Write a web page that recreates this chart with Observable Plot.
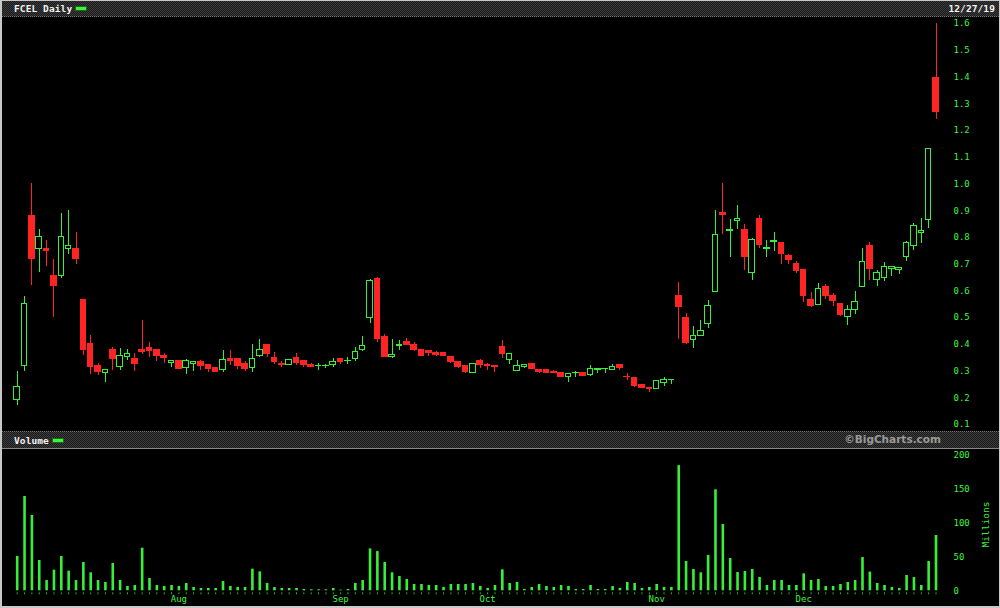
<!DOCTYPE html>
<html><head><meta charset="utf-8">
<script src="https://cdn.jsdelivr.net/npm/d3@7"></script>
<script src="https://cdn.jsdelivr.net/npm/@observablehq/plot@0.6"></script>
<style>
html,body{margin:0;padding:0;background:#fff;}
#wrap{position:relative;width:1000px;height:608px;background:#000;overflow:hidden;font-family:"DejaVu Sans Mono",monospace;}
#frame{position:absolute;left:0;top:0;width:997px;height:605px;border-left:2px solid #c8c8c8;border-top:1px solid #c8c8c8;border-right:1px solid #c8c8c8;border-bottom:2px solid #c8c8c8;pointer-events:none;}
.hdr{position:absolute;left:2px;width:997px;background-color:#1e1e1e;
  background-image:repeating-conic-gradient(#3c3c3c 0 25%, #1a1a1a 0 50%);background-size:2px 2px;}
.hdr .t{position:absolute;font-size:9.5px;font-weight:bold;color:#f2f2f2;letter-spacing:0.1px;}
.dash{position:absolute;width:10px;height:3px;background:#3df53d;box-shadow:0 0 0 1px #1a6a1a;}
#price,#vol{position:absolute;left:0;}
#price{top:17px;} #vol{top:449px;}
#mill{position:absolute;left:962px;top:519px;width:46px;text-align:center;font-size:9.5px;color:#3df53d;transform:rotate(-90deg);}
</style></head>
<body>
<div id="wrap">
  <div class="hdr" style="top:1px;height:15px;border-bottom:1px dotted #777;">
    <span class="t" id="ttl" style="left:12px;top:2px;"></span>
    <div class="dash" style="left:74px;top:6px;"></div>
    <span class="t" id="dt" style="right:4px;top:2px;"></span>
  </div>
  <div id="price"></div>
  <div class="hdr" style="top:431px;height:16px;border-top:1px dotted #777;border-bottom:1px solid #888;">
    <span class="t" id="vt" style="left:12px;top:3px;"></span>
    <div class="dash" style="left:51px;top:7px;"></div>
    <span id="bc" style="position:absolute;right:58px;top:1px;font-family:'DejaVu Sans',sans-serif;font-weight:bold;font-size:10.5px;color:#9a9a9a;"></span>
  </div>
  <div id="vol"></div>
  <div id="mill"></div>
  <div id="frame"></div>
</div>
<script>
// ---- data ----
const title = "FCEL Daily";
const lastDate = "12/27/19";
const volumeTitle = "Volume";
const credit = "©BigCharts.com";
const volumeUnit = "Millions";

const openP = [0.19,0.32,0.88,0.756,0.757,0.656,0.655,0.756,0.757,0.566,
0.40,0.319,0.293,0.38,0.314,0.354,0.346,0.377,0.388,0.38,
0.357,0.33,0.338,0.311,0.327,0.332,0.323,0.312,0.304,0.346,
0.346,0.328,0.311,0.355,0.399,0.347,0.328,0.323,0.347,0.336,
0.324,0.317,0.317,0.322,0.346,0.337,0.344,0.379,0.499,0.646,
0.428,0.352,0.394,0.41,0.399,0.38,0.376,0.368,0.368,0.354,
0.332,0.317,0.294,0.336,0.323,0.317,0.389,0.342,0.30,0.314,
0.327,0.305,0.302,0.298,0.293,0.277,0.291,0.293,0.287,0.305,
0.306,0.304,0.323,0.278,0.274,0.248,0.237,0.233,0.254,0.265,
0.579,0.50,0.417,0.432,0.477,0.597,0.89,0.822,0.86,0.828,
0.666,0.869,0.755,0.781,0.78,0.732,0.701,0.679,0.566,0.548,
0.615,0.581,0.55,0.501,0.527,0.616,0.766,0.639,0.649,0.683,
0.679,0.726,0.767,0.816,0.866,1.398];
const highP = [0.30,0.58,1.00,0.83,0.79,0.716,0.89,0.90,0.818,0.566,
0.433,0.33,0.305,0.389,0.383,0.38,0.365,0.49,0.405,0.38,
0.364,0.34,0.338,0.343,0.336,0.339,0.323,0.312,0.376,0.376,
0.346,0.336,0.40,0.418,0.40,0.368,0.337,0.345,0.365,0.337,
0.328,0.328,0.326,0.347,0.346,0.349,0.388,0.43,0.641,0.651,
0.437,0.418,0.414,0.422,0.408,0.382,0.378,0.372,0.37,0.355,
0.335,0.318,0.33,0.343,0.327,0.318,0.414,0.365,0.339,0.325,
0.328,0.306,0.303,0.302,0.295,0.29,0.298,0.295,0.32,0.31,
0.311,0.323,0.325,0.292,0.276,0.25,0.238,0.265,0.274,0.268,
0.63,0.514,0.465,0.489,0.564,0.90,1.00,0.866,0.92,0.848,
0.795,0.88,0.789,0.82,0.782,0.736,0.708,0.68,0.594,0.626,
0.624,0.59,0.552,0.545,0.597,0.758,0.781,0.676,0.706,0.692,
0.687,0.785,0.853,0.869,1.133,1.60];
const lowP = [0.17,0.30,0.62,0.67,0.69,0.50,0.647,0.736,0.70,0.358,
0.287,0.284,0.257,0.302,0.302,0.34,0.30,0.362,0.352,0.337,
0.33,0.312,0.304,0.287,0.30,0.303,0.293,0.293,0.295,0.32,
0.305,0.297,0.296,0.349,0.352,0.325,0.312,0.32,0.32,0.314,
0.312,0.303,0.308,0.314,0.325,0.323,0.336,0.374,0.477,0.405,
0.35,0.348,0.377,0.395,0.372,0.355,0.356,0.355,0.353,0.33,
0.31,0.29,0.29,0.308,0.302,0.295,0.347,0.324,0.297,0.308,
0.306,0.292,0.29,0.289,0.275,0.258,0.274,0.28,0.279,0.289,
0.292,0.302,0.302,0.264,0.24,0.234,0.221,0.23,0.243,0.251,
0.418,0.398,0.383,0.43,0.458,0.595,0.81,0.726,0.829,0.676,
0.639,0.759,0.726,0.747,0.698,0.698,0.665,0.555,0.536,0.545,
0.569,0.541,0.503,0.47,0.51,0.612,0.639,0.616,0.636,0.655,
0.66,0.71,0.75,0.776,0.834,1.24];
const closeP = [0.24,0.55,0.72,0.80,0.748,0.617,0.80,0.768,0.72,0.38,
0.314,0.295,0.303,0.344,0.357,0.362,0.325,0.373,0.374,0.358,
0.348,0.336,0.307,0.336,0.334,0.318,0.308,0.298,0.342,0.337,
0.317,0.307,0.346,0.379,0.363,0.334,0.323,0.343,0.329,0.323,
0.314,0.319,0.319,0.332,0.333,0.339,0.373,0.394,0.638,0.419,
0.352,0.361,0.396,0.397,0.379,0.358,0.367,0.359,0.356,0.332,
0.314,0.298,0.327,0.323,0.318,0.314,0.363,0.362,0.317,0.323,
0.308,0.297,0.294,0.291,0.277,0.289,0.293,0.283,0.308,0.307,
0.308,0.314,0.311,0.276,0.243,0.236,0.232,0.261,0.266,0.267,
0.539,0.404,0.432,0.451,0.542,0.808,0.885,0.826,0.869,0.727,
0.79,0.771,0.759,0.785,0.737,0.716,0.673,0.58,0.542,0.607,
0.579,0.561,0.509,0.529,0.56,0.708,0.68,0.668,0.69,0.69,
0.685,0.78,0.843,0.822,1.131,1.268];
// volume in millions
const volume = [50.7,139.4,111.3,44.8,15.2,30.5,50.7,29,15.2,41.8,
26.6,15.2,12.3,40.4,15.2,6.4,7.8,63,18.2,7.8,
6.4,7.8,6.4,10.8,4.9,3.4,3.4,3.4,13.7,6.4,
4.9,4.9,32,28,10.8,4.9,3.4,3.4,3.4,2,
1.5,1.5,1.5,3.4,1,2,10.8,15.2,62,58,
41.8,26.6,21.1,16.7,9.3,9.3,7.8,7.8,4.9,9.3,
9.3,9.3,10.8,6.4,3.4,7.8,31,10.8,12.3,2,
4.9,9.3,6.4,4.9,7.8,6.4,2,2,7.8,2,
2,6.4,3.4,12.3,10.8,3.4,4.9,9.3,4.9,4.9,
185,43.3,31.5,26.6,52.2,149.3,98,47.7,27,28.5,
31.5,19.7,7.8,15.2,15.2,7.8,7.8,25.1,15.2,16.7,
6.4,6.4,9.3,12.3,15.2,49.2,27.6,10.8,7.8,4.9,
3.4,22.6,19.7,7.8,43.3,81.7];
// month labels and the trading-day index where each month starts
const monthLabels = ["Aug","Sep","Oct","Nov","Dec"];
const monthStart = [22,44,64,87,107];
const priceTicks = [0.1,0.2,0.3,0.4,0.5,0.6,0.7,0.8,0.9,1.0,1.1,1.2,1.3,1.4,1.5,1.6];
const volumeTicks = [0,50,100,150,200];

// ---- text ----
document.getElementById("ttl").textContent = title;
document.getElementById("dt").textContent = lastDate;
document.getElementById("vt").textContent = volumeTitle;
document.getElementById("bc").textContent = credit;
document.getElementById("mill").textContent = volumeUnit;

const G = "#36f036", R = "#ff2424", TXT = "#3df53d";
const rows = openP.map((o, i) => ({i, o, h: highP[i], l: lowP[i], c: closeP[i], v: volume[i]}));
const up = rows.filter(d => d.c >= d.o);
const down = rows.filter(d => d.c < d.o);
const n = rows.length;
const days = d3.range(n);
const style = {background: "transparent", color: TXT, fontFamily: "DejaVu Sans Mono, monospace", fontSize: "9px", overflow: "visible"};
const common = {width: 1000, marginLeft: 16.7, marginRight: 64.5, x: {domain: [0, n - 1], axis: null, label: null}, style};

const price = Plot.plot({
  ...common, height: 414, marginTop: 6, marginBottom: 7,
  y: {domain: [0.1, 1.6], axis: null, label: null},
  marks: [
    Plot.ruleX(up, {x: "i", y1: "l", y2: "h", stroke: G, shapeRendering: "crispEdges"}),
    Plot.ruleX(down, {x: "i", y1: "l", y2: "h", stroke: R, shapeRendering: "crispEdges"}),
    Plot.rect(up, {x1: d => d.i - 0.38, x2: d => d.i + 0.38, y1: "o", y2: "c", fill: "#000000", stroke: G, shapeRendering: "crispEdges"}),
    Plot.rect(down, {x1: d => d.i - 0.38, x2: d => d.i + 0.38, y1: "o", y2: "c", fill: R, stroke: R, shapeRendering: "crispEdges"}),
    Plot.axisY({anchor: "right", label: null, ticks: priceTicks, tickSize: 0, tickPadding: 17.5, tickFormat: d3.format(".1f"), fill: TXT})
  ]
});
document.getElementById("price").append(price);

const vol = Plot.plot({
  ...common, height: 157, marginTop: 6, marginBottom: 15.7,
  y: {domain: [0, 200], axis: null, label: null},
  marks: [
    Plot.ruleX(rows, {x: "i", y1: 0, y2: "v", stroke: G, strokeWidth: 2.6}),
    Plot.axisY({anchor: "right", label: null, ticks: volumeTicks, tickSize: 0, tickPadding: 17.5, fill: TXT}),
    Plot.axisX({label: null, ticks: days, tickSize: 2, tickFormat: () => "", dy: 2, stroke: "#2fb02f"}),
    Plot.axisX({label: null, ticks: monthStart, tickSize: 0, tickPadding: 5, tickFormat: d => monthLabels[monthStart.indexOf(d)], fill: TXT})
  ]
});
document.getElementById("vol").append(vol);
</script>
</body></html>
